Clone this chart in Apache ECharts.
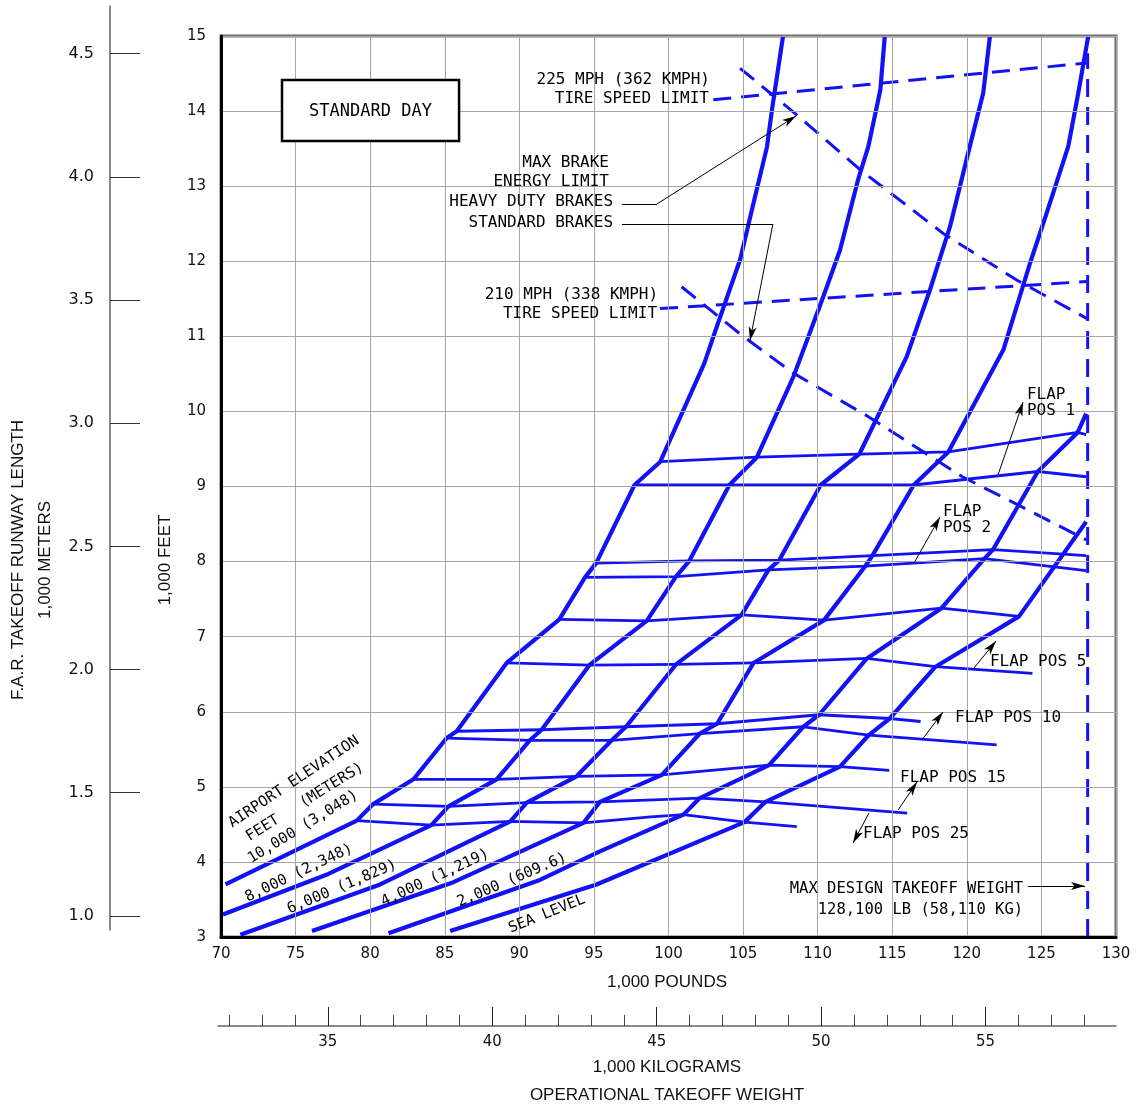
<!DOCTYPE html>
<html><head><meta charset="utf-8">
<script src="https://cdn.jsdelivr.net/npm/echarts@6/dist/echarts.min.js"></script>
<style>html,body{margin:0;padding:0;background:#fff}#c{width:1141px;height:1109px}</style>
</head><body><div id="c"></div>
<script>
// ---------- DATA (x = 1,000 lb, y = 1,000 ft) ----------
const xTickValues = [70,75,80,85,90,95,100,105,110,115,120,125,130];
const yTickValues = [3,4,5,6,7,8,9,10,11,12,13,14,15];
const meterTicks = [1.0,1.5,2.0,2.5,3.0,3.5,4.0,4.5];
const kgMinorTicks = [32,33,34,35,36,37,38,39,40,41,42,43,44,45,46,47,48,49,50,51,52,53,54,55,56,57,58];
const kgMajorTicks = [35,40,45,50,55];

// airport elevation curves
const elev10000 = [[70.3,3.70],[79.1,4.55],[80.2,4.77],[82.9,5.10],[85.13,5.65],[85.8,5.74],[89.15,6.65],[92.68,7.23],[94.4,7.79],[95.15,7.98],[97.72,9.02],[99.45,9.33],[102.4,10.64],[103.1,11.05],[104.8,12.02],[105.8,12.86],[106.6,13.52],[106.94,14.02],[107.68,15]];
const elev8000 = [[70.13,3.30],[77.2,3.84],[84.1,4.49],[85.25,4.74],[88.48,5.10],[90.7,5.62],[91.5,5.76],[94.69,6.62],[98.54,7.21],[100.5,7.80],[101.4,8.01],[104.08,9.02],[105.93,9.39],[108.37,10.46],[110.38,11.53],[111.5,12.15],[112.7,13.08],[113.4,13.53],[114.2,14.28],[114.5,15]];
const elev6000 = [[71.3,3.03],[80.67,3.70],[89.4,4.54],[90.5,4.79],[93.84,5.14],[96.19,5.62],[97.15,5.80],[100.5,6.63],[104.9,7.29],[106.7,7.89],[107.43,8.02],[110.2,9.02],[112.79,9.43],[115.97,10.73],[117.53,11.62],[118.87,12.46],[120.2,13.53],[121.1,14.24],[121.55,15]];
const elev4000 = [[76.1,3.08],[85.58,3.73],[94.3,4.52],[95.4,4.80],[99.56,5.16],[102.1,5.71],[103.26,5.84],[105.7,6.65],[110.43,7.22],[113.2,7.94],[113.67,8.08],[116.44,9.02],[118.76,9.46],[122.45,10.82],[124.23,11.97],[125.35,12.64],[126.8,13.53],[127.47,14.24],[128.14,15]];
const elev2000 = [[81.23,3.05],[91.38,3.76],[95.4,4.14],[101.0,4.63],[102.1,4.85],[106.74,5.29],[109.04,5.80],[110.1,5.96],[113.3,6.71],[118.3,7.38],[121.18,8.04],[121.76,8.16],[124.76,9.2],[127.43,9.72],[128.0,9.97]];
const elevSeaLevel = [[85.36,3.08],[95.18,3.70],[105.1,4.53],[106.5,4.80],[111.5,5.27],[113.43,5.69],[114.83,5.91],[117.9,6.6],[123.5,7.27],[128.0,8.53]];

// flap position lines
const flap25A = [[79.1,4.55],[84.1,4.49],[89.4,4.54],[94.3,4.52],[98.8,4.60],[101.0,4.63],[105.1,4.53],[108.6,4.47]];
const flap15A = [[80.2,4.77],[85.25,4.74],[90.5,4.79],[95.4,4.80],[102.1,4.85],[106.5,4.80],[116.0,4.65]];
const flap15B = [[82.9,5.10],[88.48,5.10],[93.84,5.14],[99.56,5.16],[106.74,5.29],[111.5,5.27],[114.8,5.22]];
const flap10A = [[85.13,5.65],[90.7,5.62],[96.19,5.62],[102.1,5.71],[109.04,5.80],[113.43,5.69],[122.0,5.56]];
const flap10B = [[85.8,5.74],[91.5,5.76],[97.15,5.80],[103.26,5.84],[110.1,5.96],[114.83,5.91],[116.9,5.87]];
const flap5A = [[89.15,6.65],[94.69,6.62],[100.5,6.63],[105.7,6.65],[113.3,6.71],[117.9,6.6],[124.4,6.51]];
const flap5B = [[92.68,7.23],[98.54,7.21],[104.9,7.29],[110.43,7.22],[118.3,7.38],[123.5,7.27]];
const flap2A = [[94.4,7.79],[100.5,7.80],[106.7,7.89],[113.2,7.94],[121.18,8.04],[128.0,7.88]];
const flap2B = [[95.15,7.98],[101.4,8.01],[107.43,8.02],[113.67,8.08],[121.76,8.16],[128.0,8.08]];
const flap1A = [[97.72,9.02],[104.08,9.02],[110.2,9.02],[116.44,9.02],[124.76,9.2],[128.0,9.13]];
const flap1B = [[99.45,9.33],[105.93,9.39],[112.79,9.43],[118.76,9.46],[127.43,9.72],[128.0,9.69]];

// limits (dashed)
const tire225 = [[103.0,14.15],[128.03,14.64]];
const tire210 = [[99.43,11.37],[128.03,11.73]];
const brakeHeavy = [[104.8,14.57],[108.6,13.95],[112.84,13.22],[118.42,12.37],[123.34,11.75],[128.03,11.24]];
const brakeStandard = [[100.88,11.66],[105.0,11.0],[108.37,10.51],[113.4,9.93],[119.7,9.13],[124.07,8.69],[128.0,8.29]];
const maxDesignWeight = [[128.1,3],[128.1,14.77]];

// ---------- CHART ----------
const BLUE = '#1212f4';
const GRID_L = 221, GRID_R = 1141-1116, GRID_T = 36, GRID_B = 1109-937;
const LB_PER_KG = 2.20462, FT_PER_M = 3.28084;
const chart = echarts.init(document.getElementById('c'));
const tickFont = {fontFamily:'DejaVu Sans', fontSize:15, color:'#111'};

function lineSeries(name, data, width, dashed) {
  return {type:'line', name, data, xAxisIndex:0, yAxisIndex:0, symbol:'none', silent:true,
    clip:true, animation:false, z:dashed?4:3,
    lineStyle:{color:BLUE, width, type: dashed ? [18,10] : 'solid', cap:'butt', join:'round'}};
}

const series = [
  lineSeries('10,000', elev10000, 4.2), lineSeries('8,000', elev8000, 4.2),
  lineSeries('6,000', elev6000, 4.2), lineSeries('4,000', elev4000, 4.2),
  lineSeries('2,000', elev2000, 4.2), lineSeries('SEA LEVEL', elevSeaLevel, 4.2),
  lineSeries('flap25A', flap25A, 2.8), lineSeries('flap15A', flap15A, 2.8),
  lineSeries('flap15B', flap15B, 2.8), lineSeries('flap10A', flap10A, 2.8),
  lineSeries('flap10B', flap10B, 2.8), lineSeries('flap5A', flap5A, 2.8),
  lineSeries('flap5B', flap5B, 2.8), lineSeries('flap2A', flap2A, 2.8),
  lineSeries('flap2B', flap2B, 2.8), lineSeries('flap1A', flap1A, 2.8),
  lineSeries('flap1B', flap1B, 2.8),
  lineSeries('tire225', tire225, 3, true), lineSeries('tire210', tire210, 3, true),
  lineSeries('brakeHeavy', brakeHeavy, 3, true), lineSeries('brakeStandard', brakeStandard, 3, true),
  lineSeries('maxWeight', maxDesignWeight, 3, true)
];

// leader lines (annotation geometry in data coordinates)
const leaders = [
  {pts:[[96.88,12.763],[99.23,12.763],[108.55,13.935]]},
  {pts:[[96.88,12.496],[107.0,12.496],[105.46,10.94]]},
  {pts:[[122.09,9.153],[123.77,10.125]]},
  {pts:[[116.46,7.981],[118.2,8.594]]},
  {pts:[[120.48,6.583],[121.96,6.942]]},
  {pts:[[116.99,5.624],[118.4,5.997]]},
  {pts:[[115.39,4.691],[116.66,5.064]]},
  {pts:[[113.44,4.652],[112.37,4.252]]},
  {pts:[[124.1,3.679],[127.92,3.679]]}
];
const mlData = [];
leaders.forEach(l => {
  for (let i = 0; i < l.pts.length - 1; i++) {
    const last = i === l.pts.length - 2;
    mlData.push([{coord:l.pts[i], symbol:'none'}, {coord:l.pts[i+1], symbol: last ? 'arrow' : 'none'}]);
  }
});
series.push({type:'line', name:'leaders', data:[], xAxisIndex:0, yAxisIndex:0, silent:true, animation:false,
  markLine:{silent:true, animation:false, symbolSize:[6,14], label:{show:false},
    lineStyle:{color:'#000', width:1, type:'solid'}, emphasis:{disabled:true}, data:mlData}, z:6});

const kgMin = (70 + (218-221)/ (895/60)) / LB_PER_KG, kgMax = 130 / LB_PER_KG;
const mTop = ((937-6)/(901/12) + 3) / FT_PER_M, mBot = ((937-930)/(901/12) + 3) / FT_PER_M;

chart.setOption({
  animation:false,
  backgroundColor:'#fff',
  grid:[
    {left:GRID_L, right:GRID_R, top:GRID_T, bottom:GRID_B, show:true, borderColor:'#707070', borderWidth:3, z:1},
    {left:110, top:6, width:30, height:924, show:false},
    {left:218, right:25, top:1025, height:1, show:false}
  ],
  xAxis:[
    {type:'value', gridIndex:0, min:70, max:130, interval:5,
      axisLine:{show:true, onZero:false, lineStyle:{color:'#000', width:3}}, axisTick:{show:false},
      axisLabel:Object.assign({margin:10, showMinLabel:true, showMaxLabel:true}, tickFont),
      splitLine:{show:true, lineStyle:{color:'#a6a6a6', width:1}}, z:5},
    {type:'value', gridIndex:2, min:kgMin, max:kgMax, position:'bottom',
      axisLine:{show:true, lineStyle:{color:'#666', width:1.5}},
      axisTick:{show:true, inside:true, length:11, customValues:kgMinorTicks, lineStyle:{color:'#444', width:1}},
      axisLabel:{show:false}, splitLine:{show:false}},
    {type:'value', gridIndex:2, min:kgMin, max:kgMax, position:'bottom',
      axisLine:{show:false},
      axisTick:{show:true, inside:true, length:19, customValues:kgMajorTicks, lineStyle:{color:'#222', width:1}},
      axisLabel:Object.assign({margin:9, customValues:kgMajorTicks}, tickFont), splitLine:{show:false}},
    {type:'value', gridIndex:1, show:false}
  ],
  yAxis:[
    {type:'value', gridIndex:0, min:3, max:15, interval:1,
      axisLine:{show:true, onZero:false, lineStyle:{color:'#000', width:3}}, axisTick:{show:false},
      axisLabel:Object.assign({margin:15, showMinLabel:true, showMaxLabel:true}, tickFont),
      splitLine:{show:true, lineStyle:{color:'#a6a6a6', width:1}}, z:5},
    {type:'value', gridIndex:1, min:mBot, max:mTop, position:'left',
      axisLine:{show:true, onZero:false, lineStyle:{color:'#666', width:1.5}},
      axisTick:{show:true, inside:true, length:30, customValues:meterTicks, lineStyle:{color:'#333', width:1}},
      axisLabel:Object.assign({margin:16, customValues:meterTicks, formatter:v => v.toFixed(1)}, tickFont, {fontSize:16}),
      splitLine:{show:false}},
    {type:'value', gridIndex:2, show:false}
  ],
  series
});

// ---------- TEXT ANNOTATIONS ----------
const P = (x, y) => chart.convertToPixel({gridIndex:0}, [x, y]);
const MONO = '"DejaVu Sans Mono", monospace';
const SANSN = '"Liberation Sans Narrow", "Liberation Sans", Arial, sans-serif';
function txt(pt, text, align, size, rotDeg, family) {
  const p = P(pt[0], pt[1]);
  return {type:'text', x:p[0], y:p[1], rotation:(rotDeg||0)*Math.PI/180, z:50, silent:true,
    style:{x:0, y:0, text, textAlign:align, textVerticalAlign:'middle', fill:'#000',
      font:(size||16)+'px '+(family||MONO)}};
}
function abs(x, y, text, size, rotDeg) {
  return {type:'text', x, y, rotation:(rotDeg||0)*Math.PI/180, z:50, silent:true,
    style:{x:0, y:0, text, textAlign:'center', textVerticalAlign:'middle', fill:'#111',
      font:size+'px '+SANSN}};
}
const b1 = P(74.09,14.414), b2 = P(85.96,13.60);
const graphic = [
  {type:'rect', z:40, shape:{x:b1[0], y:b1[1], width:b2[0]-b1[0], height:b2[1]-b1[1]},
    style:{fill:'#fff', stroke:'#000', lineWidth:2.5}},
  txt([80.02,14.0], 'STANDARD DAY', 'center', 17),
  txt([102.78,14.414], '225 MPH (362 KMPH)', 'right'),
  txt([102.71,14.16], 'TIRE SPEED LIMIT', 'right'),
  txt([96.01,13.31], 'MAX BRAKE', 'right'),
  txt([96.01,13.06], 'ENERGY LIMIT', 'right'),
  txt([96.28,12.79], 'HEAVY DUTY BRAKES', 'right'),
  txt([96.28,12.51], 'STANDARD BRAKES', 'right'),
  txt([99.30,11.55], '210 MPH (338 KMPH)', 'right'),
  txt([99.23,11.30], 'TIRE SPEED LIMIT', 'right'),
  txt([124.03,10.22], 'FLAP', 'left'),
  txt([124.03,10.01], 'POS 1', 'left'),
  txt([118.40,8.66], 'FLAP', 'left'),
  txt([118.40,8.45], 'POS 2', 'left'),
  txt([121.55,6.66], 'FLAP POS 5', 'left'),
  txt([119.21,5.92], 'FLAP POS 10', 'left'),
  txt([115.52,5.12], 'FLAP POS 15', 'left'),
  txt([113.04,4.37], 'FLAP POS 25', 'left'),
  txt([123.77,3.64], 'MAX DESIGN TAKEOFF WEIGHT', 'right', 15.5),
  txt([123.77,3.36], '128,100 LB (58,110 KG)', 'right', 15.5),
  txt([74.89,5.064], 'AIRPORT ELEVATION', 'center', 15, 33.7),
  txt([75.63,4.798], 'FEET   (METERS)', 'center', 15, 32),
  txt([75.5,4.465], '10,000 (3,048)', 'center', 15, 31.5),
  txt([75.23,3.852], '8,000 (2,348)', 'center', 15, 25.5),
  txt([78.11,3.666], '6,000 (1,829)', 'center', 15, 23),
  txt([84.35,3.786], '4,000 (1,219)', 'center', 15, 25),
  txt([89.51,3.759], '2,000 (609.6)', 'center', 15, 23),
  txt([91.85,3.306], 'SEA LEVEL', 'center', 15, 22),
  abs(667, 982, '1,000 POUNDS', 17),
  abs(667, 1067, '1,000 KILOGRAMS', 17),
  abs(667, 1095, 'OPERATIONAL TAKEOFF WEIGHT', 17),
  abs(165, 560, '1,000 FEET', 17, 90),
  abs(18, 560, 'F.A.R. TAKEOFF RUNWAY LENGTH', 17, 90),
  abs(45, 560, '1,000 METERS', 17, 90)
];
chart.setOption({graphic});
</script>
</body></html>
